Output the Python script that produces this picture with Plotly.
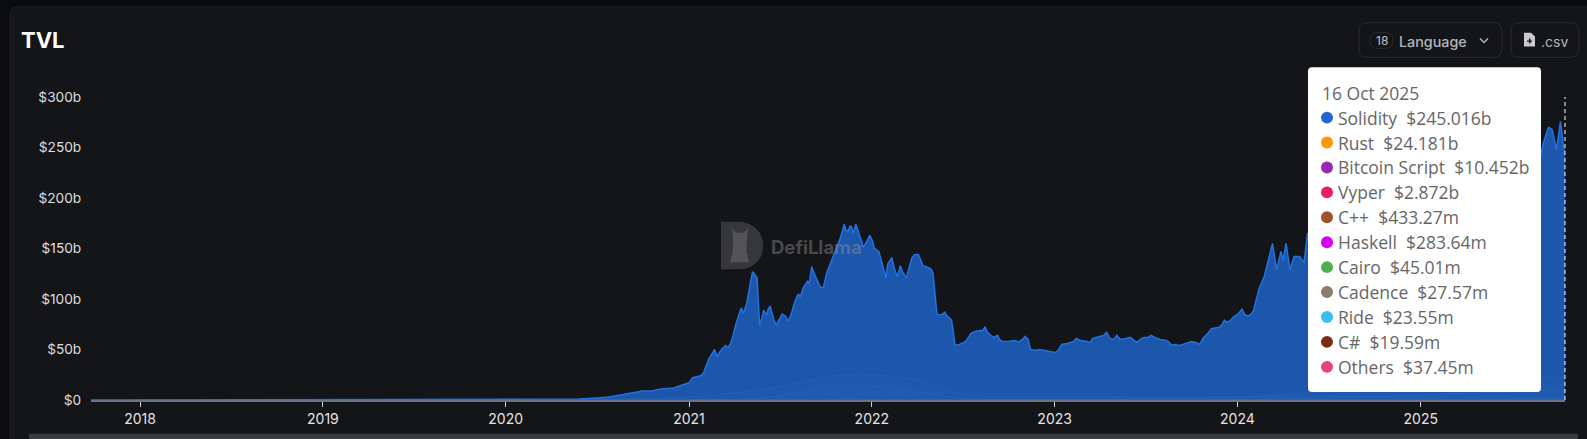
from datetime import datetime, timedelta
import plotly.graph_objects as go

# ---------- data ----------
solidity_years = [
 2017.733,2018.0,2018.5,2019.0,2019.5,2020.0,2020.2,2020.4,2020.5,2020.55,2020.63,2020.7,2020.75,2020.8,2020.85,2020.92,2020.97,
 2021.0,2021.02,2021.064,2021.08,2021.11,2021.14,2021.155,2021.2,2021.227,2021.255,2021.287,2021.30,2021.32,2021.35,2021.373,2021.387,
 2021.41,2021.445,2021.478,2021.51,2021.545,2021.58,2021.627,2021.673,2021.70,2021.736,2021.755,2021.80,2021.85,2021.873,2021.89,2021.915,
 2021.955,2021.99,2022.027,2022.055,2022.078,2022.11,2022.14,2022.158,2022.19,2022.236,2022.255,2022.28,2022.315,2022.336,2022.358,
 2022.41,2022.436,2022.455,2022.51,2022.545,2022.597,2022.62,2022.65,2022.69,2022.715,2022.78,2022.806,2022.84,2022.87,2022.95,
 2023.005,2023.04,2023.105,2023.12,2023.18,2023.21,2023.287,2023.315,2023.34,2023.36,2023.415,2023.45,2023.477,2023.53,2023.613,
 2023.64,2023.686,2023.75,2023.795,2023.813,2023.858,2023.904,2023.93,2023.958,2024.004,2024.025,2024.058,2024.09,2024.12,2024.15,
 2024.167,2024.194,2024.216,2024.24,2024.25,2024.267,2024.29,2024.31,2024.34,2024.365,2024.385,
 2024.42,2024.46,2024.52,2024.58,2024.62,2024.70,2024.80,2024.88,2024.95,2025.05,2025.15,2025.28,2025.38,2025.50,2025.60,
 2025.655,2025.672,2025.70,2025.72,2025.743,2025.765,2025.781,2025.79]
solidity_b = [
 0.05,0.1,0.2,0.3,0.5,0.7,0.5,1,2,2.6,5,7,9,9,11,12,15,
 17,22,24,27,41,50,43,54,55,74,91,86,97,127,121,74,
 89,93,74,85,78,97,111,132,120,111,126,146,174,167,172,174,
 151,163,149,136,121,141,122,133,121,144,144,133,131,126,85,
 84,79,54,57.5,66,69,72,64,64,58,59,57.5,63,50,49,
 47,55,58,61,58,61,67,60,64,60,62,57,61,64,59,
 54,54,58,55,61,70.6,72,79,78,85,90,83,88.5,110,123,
 134,155,129,147,138,155,129,142,142,136,165,
 160,172,165,150,125,140,165,190,205,195,170,140,160,185,215,
 240,255,270,268,248,276,251,245.016]
# finer ripples
ripple_years = [2021.17,2021.18,2021.215,2021.24,2021.27,2021.335,2021.36,2021.38,2021.40,2021.425,2021.435,2021.455,2021.465,2021.495,2021.53,2021.56,
 2021.60,2021.61,2021.65,2021.66,2021.685,2021.72,2021.745,2021.775,2021.83,2021.86,2021.88,2021.90,2021.93,2021.945,2021.975,2022.005,2022.015,2022.04,
 2022.09,2022.125,2022.17,2022.21,2022.22,2022.27,2022.30,2022.325,2022.345,2022.38,2022.40,2022.42,2022.445,
 2022.48,2022.53,2022.57,2022.605,2022.635,2022.67,2022.70,2022.75,2022.825,2022.855,2022.89,2022.92,2022.975,2023.02,2023.07,2023.09,2023.145,2023.195,
 2023.25,2023.27,2023.30,2023.33,2023.39,2023.43,2023.49,2023.51,2023.55,2023.58,2023.63,2023.66,2023.72,2023.775,2023.84,2023.88,2023.915,2023.945,2023.98,2024.04,2024.075]
ripple_b = [48,50,52,62,83,115,124,100,82,84,90,85,80,80,83,85,
 105,102,118,115,125,112,118,135,160,168,172,165,166,158,158,158,150,147,
 135,130,126,134,141,138,132,130,112,84,87,82,70,
 55,62,68,68,67,62,60,58,60,60,49,50,48,49,56,57,59,57,
 63,64,62,61,61,60,62,62,62,60,57,55,56,57,66,71,74,77,82,85,85]

minor_years = [2020.0,2021.0,2021.45,2021.85,2022.25,2022.5,2023.0,2024.0,2024.3,2025.0,2025.79]
rust_b     = [0.0,0.1,3,14.5,8,1.5,0.3,3,6,14,24.181]
bitcoin_b  = [0,0,0,0,0,0,0,0.2,1.5,5,10.452]
vyper_b    = [0.1,3,12,25,20,6,3.5,3,4,3,2.872]
cpp_b      = [0,0,0.5,1,0.5,0.1,0.1,0.1,0.2,0.3,0.43327]
haskell_b  = [0,0,0,0.3,0.3,0.05,0.06,0.5,0.5,0.4,0.28364]

tick_years = [2018,2019,2020,2021,2022,2023,2024,2025]
y_ticks = [0,50,100,150,200,250,300]
tip_date = "16 Oct 2025"
tip_names = ["Solidity","Rust","Bitcoin Script","Vyper","C++","Haskell","Cairo","Cadence","Ride","C#","Others"]
tip_values = ["$245.016b","$24.181b","$10.452b","$2.872b","$433.27m","$283.64m","$45.01m","$27.57m","$23.55m","$19.59m","$37.45m"]
tip_colors = ["#1f67d2","#ff9800","#9c27b0","#e91e63","#a0522d","#d500f9","#4caf50","#8b7d6b","#38bdf8","#7b2d12","#ec407a"]

# ---------- helpers ----------
W, H = 1587, 439
L, R, T, B = 91, 1565, 97, 403
def d(y):
    yr = int(y)
    return (datetime(yr,1,1)+timedelta(days=(y-yr)*365)).strftime("%Y-%m-%d")
def px(x): return (x-L)/(R-L)
def py(y): return (B-y)/(B-T)
def rrect(x0,y0,x1,y1,r):
    return (f"M{px(x0+r)},{py(y0)} L{px(x1-r)},{py(y0)} Q{px(x1)},{py(y0)} {px(x1)},{py(y0+r)} "
            f"L{px(x1)},{py(y1-r)} Q{px(x1)},{py(y1)} {px(x1-r)},{py(y1)} L{px(x0+r)},{py(y1)} "
            f"Q{px(x0)},{py(y1)} {px(x0)},{py(y1-r)} L{px(x0)},{py(y0+r)} Q{px(x0)},{py(y0)} {px(x0+r)},{py(y0)} Z")
def poly(pts):
    return "M"+" L".join(f"{px(a)},{py(b)}" for a,b in pts)+" Z"

fig = go.Figure()
for name, vals, col in [("Haskell",haskell_b,"#d500f9"),("C++",cpp_b,"#a0522d"),("Vyper",vyper_b,"#e91e63"),
                        ("Bitcoin Script",bitcoin_b,"#9c27b0"),("Rust",rust_b,"#ff9800")]:
    fig.add_trace(go.Scatter(x=[d(v) for v in minor_years], y=vals, name=name, mode="lines",
                             line=dict(color="rgba(170,170,190,0.15)",width=1,shape="spline"),
                             fill="tozeroy", fillcolor="rgba(150,150,170,0.04)", showlegend=False, hoverinfo="skip"))
pairs = sorted(zip(solidity_years+ripple_years, solidity_b+ripple_b))
fig.add_trace(go.Scatter(x=[d(p[0]) for p in pairs], y=[p[1] for p in pairs], name="Solidity", mode="lines",
                         line=dict(color="#2172e5",width=1.5), fill="tozeroy", fillcolor="rgba(33,114,229,0.72)",
                         showlegend=False, hoverinfo="skip"))

shapes, ann = [], []
def S(path, fill=None, line=None, lw=1, layer="above"):
    shapes.append(dict(type="path", xref="paper", yref="paper", path=path, fillcolor=fill or "rgba(0,0,0,0)",
                       line=dict(color=line or "rgba(0,0,0,0)", width=lw if line else 0), layer=layer))
def C(cx,cy,r,fill=None,line=None):
    shapes.append(dict(type="circle", xref="paper", yref="paper", x0=px(cx-r), x1=px(cx+r), y0=py(cy+r), y1=py(cy-r),
                       fillcolor=fill or "rgba(0,0,0,0)", line=dict(color=line or "rgba(0,0,0,0)", width=1 if line else 0), layer="above"))
def A(x,y,t,size,color,fam="Inter",xa="left",weight=None):
    f = dict(size=size,color=color,family=fam)
    if weight: f["weight"] = weight
    ann.append(dict(xref="paper",yref="paper",x=px(x),y=py(y),text=t,showarrow=False,xanchor=xa,yanchor="middle",
                    font=f,borderpad=0,borderwidth=0,align="left"))

# page/card
S(rrect(10,6,1620,460,8), fill="#141518", line="#222327", layer="below")
S(rrect(29,437,1578,460,1), fill="#3a3b3e", layer="above")

# title
A(21,39,"<b>TVL</b>",22,"#ffffff")
# buttons
S(rrect(1359,22,1502,57,9), line="#2a2b2f")
S(rrect(1511,22,1579,57,9), line="#2a2b2f")
S(rrect(1370,32,1393,48,8), line="#2a2b2f")
A(1381.5,40,"18",12,"#c4c4c7",xa="center")
A(1399,41,"Language",14.3,"#b4b5b8",weight=500)
S(f"M{px(1480)},{py(38)} L{px(1484)},{py(42)} L{px(1488)},{py(38)}", line="#b4b5b8", lw=1.4)
S(poly([(1524,32),(1531,32),(1535,36),(1535,46),(1524,46)]), fill="#c9cacc")
S(poly([(1529,38),(1530.5,38),(1530.5,40),(1532,40),(1532,41.2),(1530.5,41.2),(1530.5,43),(1529,43),(1529,41.2),(1527,41.2),(1527,40),(1529,40)]), fill="#141518")
A(1541,41,".csv",14,"#b4b5b8")

# watermark
S(f"M{px(721)},{py(223)} L{px(742)},{py(223)} Q{px(763)},{py(228)} {px(763)},{py(247)} Q{px(763)},{py(267)} {px(742)},{py(271)} L{px(721)},{py(271)} Z",
  fill="rgba(125,125,125,0.33)")
S(poly([(732,229),(736,234),(744,234),(748,229),(747,239),(746,252),(749,264),(730,264),(733,252),(733,239)]), fill="rgba(140,140,140,0.35)")
A(771,248,"<b>DefiLlama</b>",18.5,"rgba(150,150,150,0.42)")

# crosshair
shapes.append(dict(type="line",xref="paper",yref="paper",x0=1,x1=1,y0=0,y1=1,line=dict(color="#ffffff",width=1,dash="4px,3px"),layer="above"))

# tooltip
S(rrect(1308,67,1541,395,4), fill="#ffffff")
TF = "Open Sans"
A(1322,92.5,tip_date,17.5,"#666666",TF)
for i,(n,v,c) in enumerate(zip(tip_names,tip_values,tip_colors)):
    y = 117.8+i*25.17
    C(1327,y,6,fill=c)
    A(1338,y,f"{n}\u00a0\u00a0{v}",17.5,"#666666",TF)

fig.update_layout(
    width=W,height=H,margin=dict(l=L,r=W-R,t=T,b=H-B,pad=0),
    paper_bgcolor="#0b0c0e",plot_bgcolor="rgba(0,0,0,0)",showlegend=False,
    shapes=shapes,annotations=ann,
    font=dict(family="Inter",size=14,color="#dddddd"),
    xaxis=dict(type="date",range=[d(2017.733),d(2025.79)],tickvals=[f"{y}-01-01" for y in tick_years],ticktext=[str(y) for y in tick_years],
               ticks="outside",ticklen=5,tickcolor="#cfcfcf",tickwidth=1,showgrid=False,showline=True,linecolor="#6b7486",linewidth=1.5,zeroline=False,
               tickfont=dict(size=14,color="#e4e4e4")),
    yaxis=dict(range=[0,300],tickvals=y_ticks,ticktext=[f"${v}b" if v else "$0" for v in y_ticks],ticks="outside",ticklen=6,tickcolor="rgba(0,0,0,0)",
               showgrid=True,gridcolor="#17181b",zeroline=False,showline=False,tickfont=dict(size=13.7,color="#dedede")),
)
fig.write_html("out.html",post_script="document.body.style.margin='0';document.body.style.overflow='hidden';document.body.style.background='#0b0c0e';",config={"displayModeBar":False})
